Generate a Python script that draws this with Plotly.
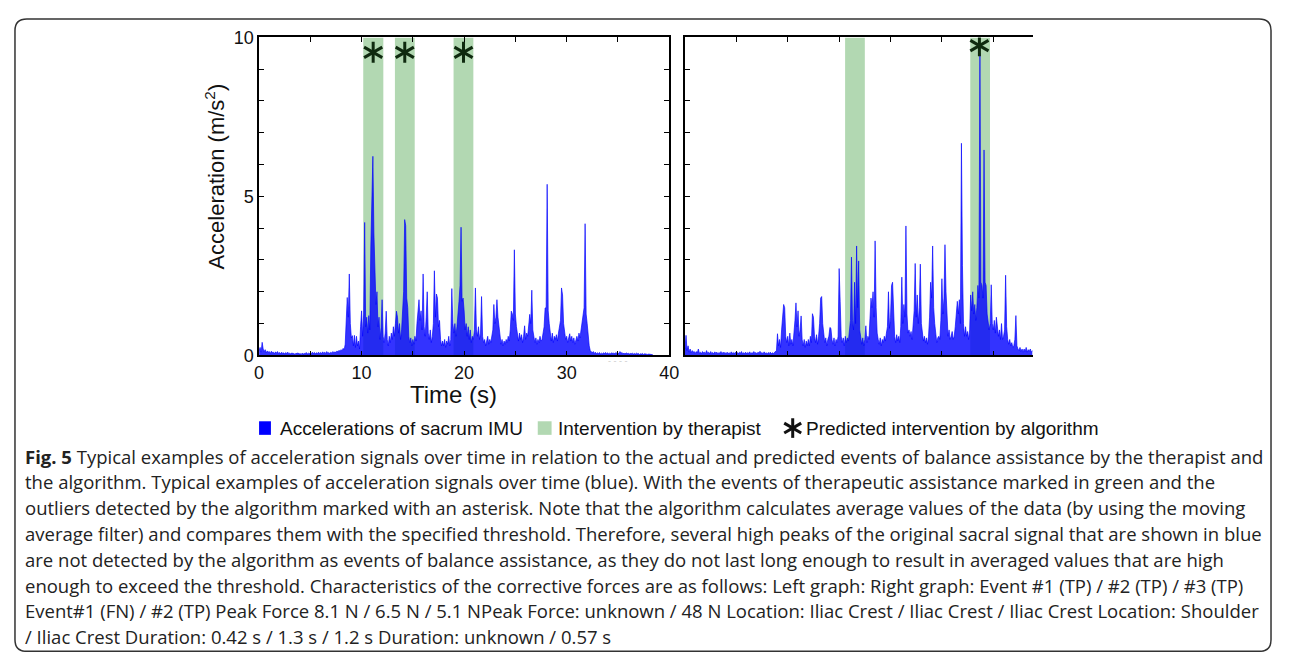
import numpy as np
import plotly.graph_objects as go

# page geometry: the browser body keeps an 8 px margin, so the figure is sized
# to fill the 1290x670 window exactly with that margin around it
PAGE_W, PAGE_H = 1290, 670
OX, OY = 8, 8
FW, FH = PAGE_W - 2 * OX, PAGE_H - 2 * OY

# ---------------- data ----------------
# left panel: sacrum acceleration (m/s^2), one row per second, 0.1 s samples
left_acc = [
    0.15, 0.25, 0.10, 0.41, 0.20, 0.12, 0.18, 0.08, 0.14, 0.10,
    0.12, 0.06, 0.13, 0.09, 0.10, 0.05, 0.11, 0.07, 0.12, 0.06,
    0.09, 0.05, 0.10, 0.06, 0.08, 0.04, 0.09, 0.06, 0.10, 0.05,
    0.07, 0.04, 0.08, 0.05, 0.06, 0.03, 0.07, 0.05, 0.08, 0.04,
    0.06, 0.03, 0.07, 0.04, 0.06, 0.05, 0.09, 0.04, 0.07, 0.05,
    0.08, 0.05, 0.10, 0.06, 0.09, 0.05, 0.08, 0.06, 0.10, 0.06,
    0.09, 0.06, 0.11, 0.07, 0.10, 0.06, 0.12, 0.07, 0.09, 0.06,
    0.10, 0.07, 0.12, 0.08, 0.11, 0.09, 0.14, 0.10, 0.16, 0.12,
    0.18, 0.14, 0.22, 0.17, 0.35, 1.05, 1.82, 1.20, 2.56, 1.00,
    0.55, 0.62, 0.30, 0.63, 0.25, 0.60, 0.30, 0.45, 0.20, 0.90,
    1.40, 0.60, 1.30, 4.18, 0.90, 1.20, 0.70, 1.25, 0.80, 3.44,
    5.16, 6.26, 3.85, 2.30, 1.60, 2.00, 0.90, 1.20, 0.50, 0.88,
    1.75, 0.60, 0.40, 0.70, 1.39, 0.50, 0.30, 0.60, 0.40, 0.70,
    0.50, 0.90, 0.60, 1.00, 1.39, 1.20, 0.70, 1.00, 0.50, 0.80,
    1.60, 2.00, 4.27, 4.08, 1.80, 1.50, 0.60, 0.40, 0.55, 0.30,
    0.50, 0.35, 0.60, 0.45, 1.00, 1.30, 1.75, 1.10, 1.40, 0.80,
    2.56, 0.90, 0.60, 1.20, 2.00, 0.70, 0.50, 0.80, 0.40, 0.60,
    1.00, 2.66, 1.20, 1.93, 1.80, 0.90, 1.10, 0.50, 0.30, 0.45,
    0.30, 0.50, 0.25, 0.45, 0.35, 0.60, 0.30, 0.50, 2.10, 1.00,
    0.70, 1.00, 0.60, 0.90, 1.20, 1.70, 2.20, 4.03, 1.70, 1.80,
    1.40, 0.80, 1.00, 0.60, 0.90, 0.50, 0.80, 0.40, 0.60, 0.50,
    0.80, 2.12, 0.80, 0.60, 0.90, 0.50, 0.70, 1.85, 0.60, 0.40,
    0.50, 0.30, 0.45, 0.60, 0.35, 0.50, 0.40, 0.55, 0.80, 1.60,
    1.00, 1.20, 1.75, 1.20, 0.90, 0.50, 0.35, 0.50, 0.30, 0.45,
    0.35, 0.50, 0.40, 0.60, 0.45, 0.80, 1.39, 1.30, 1.10, 3.32,
    1.30, 0.90, 0.60, 0.45, 0.70, 0.50, 0.65, 0.40, 0.60, 0.93,
    0.50, 0.70, 0.60, 0.90, 1.29, 1.00, 2.05, 0.80, 0.60, 0.40,
    0.55, 0.35, 0.50, 0.40, 0.60, 0.45, 0.50, 0.70, 0.90, 1.49,
    1.50, 5.38, 1.40, 1.00, 0.60, 0.45, 0.70, 0.40, 0.60, 0.50,
    0.65, 0.45, 0.70, 0.90, 1.10, 2.12, 1.90, 1.00, 0.70, 0.50,
    0.60, 0.40, 0.55, 0.68, 0.45, 0.60, 0.40, 0.55, 0.35, 0.50,
    0.60, 0.45, 0.70, 0.55, 0.80, 0.88, 1.20, 1.50, 4.14, 1.30,
    1.00, 0.60, 0.30, 0.15, 0.10, 0.08, 0.12, 0.06, 0.10, 0.05,
    0.08, 0.05, 0.09, 0.04, 0.07, 0.05, 0.08, 0.06, 0.09, 0.05,
    0.08, 0.04, 0.07, 0.05, 0.08, 0.06, 0.07, 0.05, 0.09, 0.06,
    0.08, 0.05, 0.12, 0.06, 0.09, 0.05, 0.07, 0.04, 0.08, 0.05,
    0.07, 0.04, 0.06, 0.05, 0.07, 0.04, 0.06, 0.04, 0.07, 0.05,
    0.06, 0.03, 0.05, 0.04, 0.06, 0.03, 0.05, 0.04, 0.05, 0.03,
    0.04, 0.03, 0.04, 0.03, 0.02,
]

# right panel: sacrum acceleration (m/s^2), 0.1 s samples
right_acc = [
    0.20, 0.63, 0.15, 0.30, 0.10, 0.20, 0.08, 0.15, 0.10, 0.12,
    0.06, 0.12, 0.08, 0.20, 0.07, 0.10, 0.05, 0.12, 0.08, 0.10,
    0.06, 0.15, 0.07, 0.10, 0.05, 0.12, 0.06, 0.09, 0.05, 0.11,
    0.07, 0.10, 0.05, 0.09, 0.06, 0.12, 0.05, 0.10, 0.07, 0.09,
    0.05, 0.10, 0.06, 0.08, 0.05, 0.11, 0.06, 0.09, 0.05, 0.10,
    0.06, 0.09, 0.05, 0.10, 0.07, 0.12, 0.05, 0.08, 0.06, 0.10,
    0.05, 0.09, 0.06, 0.11, 0.05, 0.08, 0.07, 0.12, 0.06, 0.09,
    0.05, 0.10, 0.07, 0.13, 0.06, 0.09, 0.05, 0.11, 0.06, 0.08,
    0.05, 0.09, 0.06, 0.10, 0.05, 0.08, 0.06, 0.09, 0.10, 0.15,
    0.68, 0.30, 0.50, 0.25, 0.80, 1.20, 1.60, 1.50, 0.60, 0.40,
    0.60, 0.30, 0.70, 0.35, 0.50, 0.30, 0.60, 1.10, 1.65, 0.90,
    1.40, 0.60, 0.80, 1.24, 0.50, 0.30, 0.50, 0.25, 0.45, 0.30,
    0.50, 0.30, 0.60, 0.40, 1.31, 1.20, 0.60, 0.40, 0.65, 0.35,
    0.60, 1.00, 1.80, 1.85, 1.00, 0.60, 0.40, 0.55, 0.30, 0.50,
    0.60, 0.88, 0.85, 0.50, 0.35, 0.55, 0.30, 0.50, 0.40, 0.60,
    2.73, 1.70, 0.60, 0.40, 0.55, 0.30, 0.60, 0.40, 0.55, 0.45,
    0.70, 1.10, 3.09, 1.10, 0.80, 2.30, 1.00, 3.44, 1.50, 2.97,
    0.80, 0.50, 0.35, 0.55, 0.30, 0.50, 0.93, 0.40, 0.60, 0.50,
    1.00, 1.80, 1.50, 2.00, 1.20, 3.60, 1.50, 0.70, 0.50, 0.35,
    0.55, 0.30, 0.50, 0.40, 0.60, 0.45, 0.70, 0.90, 2.00, 0.85,
    1.20, 2.20, 2.30, 1.00, 0.60, 0.40, 0.65, 0.45, 0.60, 0.40,
    0.90, 2.46, 1.00, 1.60, 1.20, 4.07, 1.30, 0.70, 0.80, 0.60,
    0.75, 0.50, 1.00, 1.40, 2.89, 1.20, 1.90, 1.00, 1.50, 2.87,
    1.00, 0.60, 0.45, 0.60, 0.40, 0.55, 0.35, 0.60, 1.20, 2.30,
    1.80, 3.44, 1.50, 1.00, 0.60, 0.40, 0.55, 0.60, 0.50, 1.10,
    2.41, 1.30, 1.80, 3.48, 2.00, 0.90, 0.60, 0.80, 0.50, 0.60,
    0.75, 0.50, 0.60, 0.90, 1.20, 1.70, 1.30, 1.75, 1.00, 6.67,
    2.82, 1.00, 0.60, 0.90, 0.60, 0.75, 0.50, 0.80, 1.90, 1.40,
    2.00, 1.30, 1.60, 1.10, 1.50, 2.20, 1.80, 9.50, 2.30, 2.20,
    1.80, 6.46, 2.30, 2.20, 1.30, 1.00, 0.80, 1.00, 2.22, 1.00,
    0.80, 1.10, 0.70, 1.20, 0.90, 0.60, 0.80, 0.50, 1.00, 0.50,
    0.60, 0.80, 2.52, 0.90, 0.50, 0.35, 0.50, 0.30, 0.40, 0.25,
    0.30, 0.50, 1.25, 0.30, 0.20, 0.15, 0.25, 0.12, 0.20, 0.10,
    0.20, 0.12, 0.25, 0.10, 0.18, 0.12, 0.20, 0.10, 0.15,
]
sample_step = 0.1

# therapist interventions (start, end) in s
left_bands = [(10.16, 12.12), (13.25, 15.18), (18.97, 20.90)]
right_bands = [(15.58, 17.50), (27.76, 29.68)]

# algorithm detections (time s, marker level)
left_detect_t = [11.13, 14.21, 19.94]
left_detect_v = [9.53, 9.53, 9.53]
right_detect_t = [28.65]
right_detect_v = [9.74]

x_ticks_left = [0, 5, 10, 15, 20, 25, 30, 35, 40]
x_labels_left = ["0", "", "10", "", "20", "", "30", "", "40"]
x_ticks_right = [0, 5, 10, 15, 20, 25, 30]
y_ticks = list(range(11))
y_labels = ["0", "", "", "", "", "5", "", "", "", "", "10"]

legend_labels = ["Accelerations of sacrum IMU", "Intervention by therapist",
                 "Predicted intervention by algorithm"]

caption_lines = [
    "<b>Fig. 5</b> Typical examples of acceleration signals over time in relation to the actual and predicted events of balance assistance by the therapist and",
    "the algorithm. Typical examples of acceleration signals over time (blue). With the events of therapeutic assistance marked in green and the",
    "outliers detected by the algorithm marked with an asterisk. Note that the algorithm calculates average values of the data (by using the moving",
    "average filter) and compares them with the specified threshold. Therefore, several high peaks of the original sacral signal that are shown in blue",
    "are not detected by the algorithm as events of balance assistance, as they do not last long enough to result in averaged values that are high",
    "enough to exceed the threshold. Characteristics of the corrective forces are as follows: Left graph: Right graph: Event #1 (TP) / #2 (TP) / #3 (TP)",
    "Event#1 (FN) / #2 (TP) Peak Force 8.1 N / 6.5 N / 5.1 NPeak Force: unknown / 48 N Location: Iliac Crest / Iliac Crest / Iliac Crest Location: Shoulder",
    "/ Iliac Crest Duration: 0.42 s / 1.3 s / 1.2 s Duration: unknown / 0.57 s",
]

# ---------------- styling ----------------
BLUE_LINE = "rgba(0,0,255,0.65)"
BLUE_FILL = "rgba(0,0,255,0.8)"
GREEN = "rgb(178,216,178)"
STAR = "#0f2a0f"
FONT = "Liberation Sans, Arial, sans-serif"
CAP_FONT = "Open Sans, Noto Sans, sans-serif"


def fx(px):
    return (px - OX) / FW


def fy(py):
    return 1 - (py - OY) / FH


left_t = np.round(np.arange(len(left_acc)) * sample_step, 2)
right_t = np.round(np.arange(len(right_acc)) * sample_step, 2)

fig = go.Figure()

# signals
fig.add_trace(go.Scatter(x=left_t, y=left_acc, mode="lines", xaxis="x", yaxis="y",
                         line=dict(color=BLUE_LINE, width=1), fill="tozeroy",
                         fillcolor=BLUE_FILL, hoverinfo="skip", showlegend=False))
fig.add_trace(go.Scatter(x=right_t, y=right_acc, mode="lines", xaxis="x2", yaxis="y2",
                         line=dict(color=BLUE_LINE, width=1), fill="tozeroy",
                         fillcolor=BLUE_FILL, hoverinfo="skip", showlegend=False))

# asterisks (three rotated strokes)
for xs, ys, xa, ya in [(left_detect_t, left_detect_v, "x", "y"),
                       (right_detect_t, right_detect_v, "x2", "y2")]:
    for ang in (0, 60, 120):
        fig.add_trace(go.Scatter(x=xs, y=ys, mode="markers", xaxis=xa, yaxis=ya,
                                 marker=dict(symbol="line-ns-open", size=15, angle=ang,
                                             color=STAR, line=dict(color=STAR, width=3)),
                                 hoverinfo="skip", showlegend=False))

# legend asterisk on a full-page pixel overlay axis
for ang in (0, 60, 120):
    fig.add_trace(go.Scatter(x=[797], y=[431], mode="markers", xaxis="x3", yaxis="y3",
                             marker=dict(symbol="line-ns-open", size=14, angle=ang,
                                         color="#111111", line=dict(color="#111111", width=3)),
                             hoverinfo="skip", showlegend=False))

shapes = []
for a, b in left_bands:
    shapes.append(dict(type="rect", xref="x", yref="y", x0=a, x1=b, y0=0, y1=10,
                       fillcolor=GREEN, line=dict(width=0), layer="below"))
for a, b in right_bands:
    shapes.append(dict(type="rect", xref="x2", yref="y2", x0=a, x1=b, y0=0, y1=10,
                       fillcolor=GREEN, line=dict(width=0), layer="below"))

# legend swatches
shapes.append(dict(type="rect", xref="x3", yref="y3", x0=257, x1=269, y0=424, y1=438,
                   fillcolor="#0000ff", line=dict(width=0)))
shapes.append(dict(type="rect", xref="x3", yref="y3", x0=539, x1=553, y0=424, y1=438,
                   fillcolor=GREEN, line=dict(width=0)))

# outer rounded frame
L, R, T, B, r = 10, 1281, 9, 661.3, 12
path = (f"M{L+r},{T} L{R-r},{T} Q{R},{T} {R},{T+r} L{R},{B-r} Q{R},{B} {R-r},{B} "
        f"L{L+r},{B} Q{L},{B} {L},{B-r} L{L},{T+r} Q{L},{T} {L+r},{T} Z")
shapes.append(dict(type="path", xref="x3", yref="y3", path=path,
                   line=dict(color="#333333", width=1.5), fillcolor="rgba(0,0,0,0)"))

annotations = [
    dict(text="Acceleration (m/s<sup>2</sup>)", x=fx(212), y=fy(172), xref="paper", yref="paper",
         textangle=-90, showarrow=False, xanchor="center", yanchor="middle",
         font=dict(family=FONT, size=22, color="#111")),
    dict(text="Time (s)", x=fx(454), y=fy(396), xref="paper", yref="paper", showarrow=False,
         xanchor="center", yanchor="middle", font=dict(family=FONT, size=24, color="#111")),
    dict(text="- - - -", x=fx(620), y=fy(362), xref="paper", yref="paper", showarrow=False,
         xanchor="center", yanchor="middle", font=dict(family=FONT, size=9, color="#cccccc")),
]
legend_x = [276, 557, 808]
for lx, lab in zip(legend_x, legend_labels):
    annotations.append(dict(text=lab, x=fx(lx), y=fy(431), xref="paper", yref="paper",
                            showarrow=False, xanchor="left", yanchor="middle",
                            font=dict(family=FONT, size=19, color="#111")))
cap_y = [460, 486.6, 513.2, 539.8, 566.4, 593, 619.6, 646.2]
for cy, line in zip(cap_y, caption_lines):
    annotations.append(dict(text=line, x=fx(18), y=fy(cy), xref="paper", yref="paper",
                            showarrow=False, xanchor="left", yanchor="middle",
                            font=dict(family=CAP_FONT, size=18.5, color="#222")))

axis_common = dict(showgrid=False, zeroline=False, showline=True, linecolor="black",
                   linewidth=1.5, ticks="inside", ticklen=5, tickwidth=1, tickcolor="black",
                   tickfont=dict(family=FONT, size=18, color="#111"))

fig.update_layout(
    width=FW, height=FH, autosize=False,
    margin=dict(l=0, r=0, t=0, b=0),
    paper_bgcolor="white", plot_bgcolor="rgba(0,0,0,0)",
    showlegend=False,
    xaxis=dict(domain=[fx(257), fx(672)], range=[0, 40], anchor="y",
               tickmode="array", tickvals=x_ticks_left, ticktext=x_labels_left,
               mirror="ticks", **axis_common),
    yaxis=dict(domain=[fy(356), fy(28)], range=[0, 10], anchor="x",
               tickmode="array", tickvals=y_ticks, ticktext=y_labels,
               mirror="ticks", **axis_common),
    xaxis2=dict(domain=[fx(688), fx(1040)], range=[0, 33.85], anchor="y2",
                tickmode="array", tickvals=x_ticks_right, showticklabels=False,
                mirror="ticks", **axis_common),
    yaxis2=dict(domain=[fy(356), fy(28)], range=[0, 10], anchor="x2",
                tickmode="array", tickvals=y_ticks, showticklabels=False,
                mirror=False, **axis_common),
    xaxis3=dict(domain=[0, 1], range=[OX, OX + FW], anchor="y3", visible=False, fixedrange=True),
    yaxis3=dict(domain=[0, 1], range=[OY + FH, OY], anchor="x3", visible=False, fixedrange=True),
    shapes=shapes,
    annotations=annotations,
)

fig.write_html("out.html", config={"displayModeBar": False})
